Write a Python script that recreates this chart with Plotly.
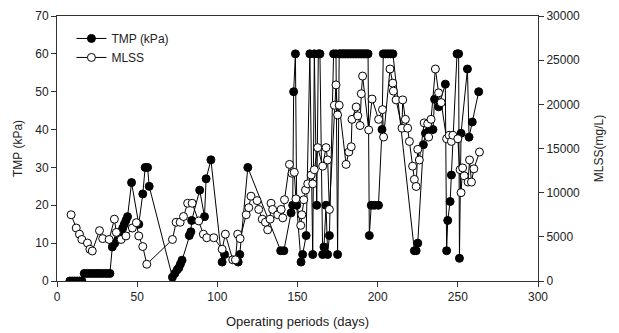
import plotly.graph_objects as go

# TMP (kPa) series
tmp_days = [8, 9.5, 11, 12.5, 14, 15.5,
            17, 19, 21, 23, 25, 27, 29, 31, 33,
            34.5, 36, 38, 40, 41, 42, 43, 44, 46.5,
            51, 53.5, 55, 56.5, 57.5,
            72, 73.5, 75, 76, 77, 78, 82.5, 83.5, 84, 89, 92, 93, 96,
            103, 104.5, 113, 114, 119, 139.5, 141.5,
            146, 147, 147.6, 148.7, 149.5, 152.2, 153.2, 155.4, 157.7, 159.5, 160.5,
            162, 163, 164, 165.7, 166.5, 167.8, 168.8, 169.9, 172.5, 174, 175,
            176, 177, 178, 179, 180, 181, 182, 183, 184, 185, 186, 187, 188, 189,
            190, 191, 192, 193, 194, 194.8, 196, 198, 200.5, 202.7,
            203.5, 205, 206.5, 208, 209.5,
            222.9, 224, 225, 228.5, 229.8, 232.3, 234.5, 235.5, 238, 242.2,
            243, 243.7, 245.2, 246, 249.5, 250.5, 251, 252, 256, 257, 259, 263]
tmp_vals = [0, 0, 0, 0, 0, 0,
            2, 2, 2, 2, 2, 2, 2, 2, 2,
            9, 10, 11, 13, 14, 15, 16, 17, 26,
            15, 23, 30, 30, 25,
            1, 2, 3, 3.5, 4.5, 5.5, 12, 13, 16, 24, 17, 27, 32,
            5, 7, 5, 7, 30, 8, 8,
            18, 20, 50, 60, 20, 5, 7, 12, 60, 7, 60,
            20, 60, 60, 7, 9, 20, 7, 12, 60, 60, 7,
            60, 60, 60, 60, 60, 60, 60, 60, 60, 60, 60, 60, 60, 60,
            60, 60, 60, 60, 60, 12, 20, 20, 20, 40,
            60, 60, 60, 60, 60,
            8, 8, 10, 36, 39, 40, 40, 48, 46, 52,
            8, 16, 21, 28, 60, 60, 6, 39, 56, 38, 42, 50]

# MLSS (mg/L) series
mlss_days = [8.8, 12, 14, 15.5, 19, 20.5, 22, 26.5, 28.5, 32.5, 35.8, 37, 40, 43, 47, 49.5,
             51, 53.5, 56, 72, 74.3, 76.8, 78.9, 81.5, 84.3, 88.4, 91.3, 93.4, 97.8,
             103, 105, 109.6, 111.3, 112.7, 114.2, 118, 119.6, 121, 124.8, 125.8, 128,
             130, 131.4, 132.9, 133.5, 134.5, 137.7, 139.8, 140.8, 141.9, 145, 146.6,
             148, 149, 152, 152.7, 153.9, 155, 156.4, 158.5, 159.5, 160.5, 162.6, 165.7,
             167.8, 168.8, 169.9, 173, 174, 175, 176, 180.3, 182, 183.5, 184, 186.6,
             187.6, 189, 189.8, 190.6, 194.4, 196.5, 200.6, 203, 203.7, 207.7, 209.4,
             209.8, 211.5, 215.2, 215.6, 217.3, 218.7, 219.8, 221.8, 222.9, 224, 225,
             226, 229, 231.2, 231.8, 233.3, 236, 238, 239.6, 243, 244.6, 246, 246.9,
             250, 251.4, 252, 253, 254, 256.4, 257.3, 258.5, 260, 263.5]
mlss_vals = [7500, 6000, 5300, 4700, 4300, 3600, 3400, 5700, 4800, 4700, 7000, 5500, 4700, 5100, 6000, 6600,
             5100, 3900, 1900, 4700, 6650, 6650, 7300, 8800, 8800, 6800, 5300, 4900, 4900,
             3600, 5300, 2400, 2400, 5300, 4800, 7500, 8300, 9600, 9100, 8100, 7000,
             6650, 5800, 7000, 8800, 8100, 7500, 8100, 7150, 9200, 13200, 12200,
             12300, 9300, 6300, 7500, 9200, 10300, 11000, 12000, 11000, 12600, 15100, 13000,
             15100, 13700, 8100, 19900, 22200, 18800, 19900, 13200, 14600, 15200, 18300, 19700,
             18700, 17600, 21200, 23200, 17100, 20600, 18300, 19400, 16300, 24000, 22400,
             21500, 20500, 17300, 20500, 18300, 17300, 15800, 13000, 11500, 10700, 14900,
             13700, 17900, 17800, 16300, 18300, 24000, 21300, 20200, 16100, 16500, 15800, 16500,
             16100, 12600, 10000, 12800, 11900, 11200, 13700, 11200, 12700, 14600]

x_ticks = [0, 50, 100, 150, 200, 250, 300]
y1_ticks = [0, 10, 20, 30, 40, 50, 60, 70]
y2_ticks = [0, 5000, 10000, 15000, 20000, 25000, 30000]

FONT = "Liberation Sans, Arial, sans-serif"

fig = go.Figure()
fig.add_trace(go.Scatter(
    x=tmp_days, y=tmp_vals, name="TMP (kPa)", mode="lines+markers",
    line=dict(color="black", width=1),
    marker=dict(symbol="circle", size=8, color="black", line=dict(color="black", width=1)),
    yaxis="y"))
fig.add_trace(go.Scatter(
    x=mlss_days, y=mlss_vals, name="MLSS", mode="lines+markers",
    line=dict(color="black", width=1),
    marker=dict(symbol="circle", size=8, color="white", line=dict(color="black", width=1)),
    yaxis="y2"))

axis_common = dict(showgrid=False, zeroline=False, showline=True, linecolor="#333",
                   linewidth=1, ticks="outside", ticklen=5, tickcolor="#333",
                   tickfont=dict(family=FONT, size=12, color="#222"))

fig.update_layout(
    width=619, height=333,
    margin=dict(l=57, r=81, t=16, b=52, autoexpand=False),
    paper_bgcolor="white", plot_bgcolor="white",
    font=dict(family=FONT, size=12, color="#222"),
    showlegend=True,
    legend=dict(x=0.03, y=0.97, xanchor="left", yanchor="top",
                bgcolor="rgba(0,0,0,0)", font=dict(family=FONT, size=12, color="#222"),
                itemwidth=30, tracegroupgap=0),
    xaxis=dict(range=[0, 300], tickvals=x_ticks, mirror=True,
               title=dict(text="Operating periods (days)", standoff=13,
                          font=dict(family=FONT, size=13, color="#222")),
               **axis_common),
    yaxis=dict(range=[0, 70], tickvals=y1_ticks,
               title=dict(text="TMP (kPa)", standoff=10,
                          font=dict(family=FONT, size=12, color="#222")),
               **axis_common),
    yaxis2=dict(range=[0, 30000], tickvals=y2_ticks, tickformat="d", overlaying="y", side="right",
                title=dict(text="MLSS(mg/L)", standoff=15,
                           font=dict(family=FONT, size=12, color="#222")),
                **axis_common),
)

fig.write_html("out.html")
